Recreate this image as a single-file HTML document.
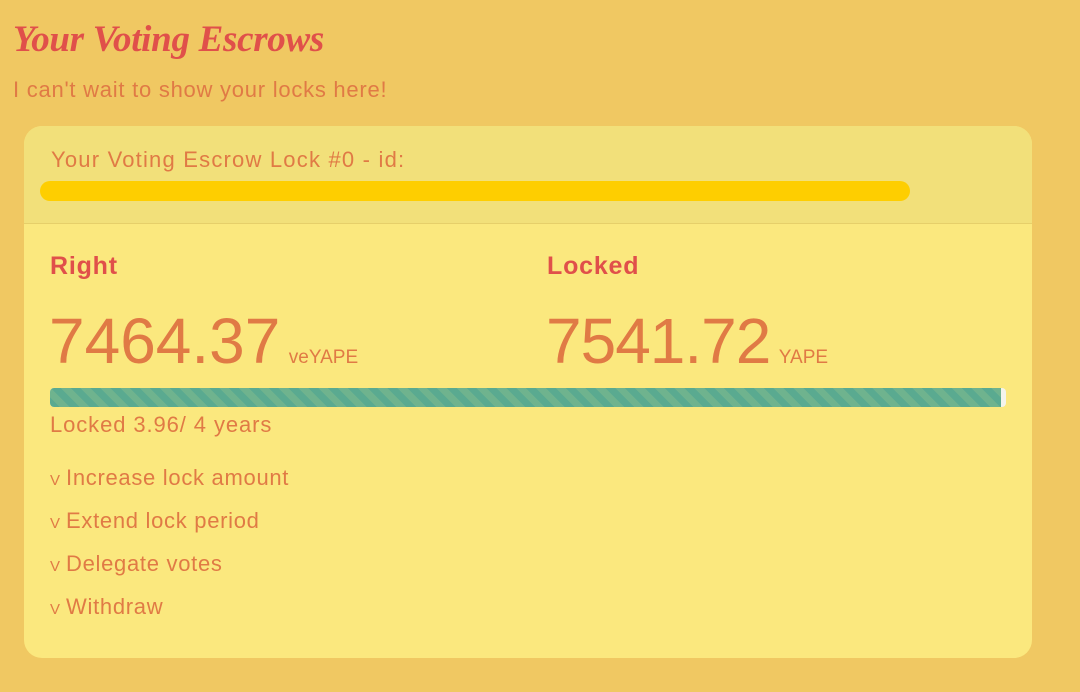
<!DOCTYPE html>
<html><head><meta charset="utf-8"><style>
*{margin:0;padding:0;box-sizing:border-box}
body{width:1080px;height:692px;background:#f0c862;font-family:"Liberation Sans",sans-serif;position:relative;overflow:hidden}
.a{position:absolute;white-space:nowrap}
#title{left:13px;top:18px;font-family:"Liberation Serif",serif;font-style:italic;font-weight:bold;font-size:37px;color:#e0504a;letter-spacing:-0.3px}
#sub{left:13px;top:77px;font-size:22px;color:#e07a45;letter-spacing:0.75px}
#card{left:24px;top:126px;width:1008px;height:532px;background:#fbe87e;border-radius:18px;overflow:hidden}
#head{position:absolute;left:0;top:0;width:100%;height:98px;background:#f2e07a;border-bottom:1px solid #e6cf6a}
#lockid{left:27px;top:21px;font-size:22px;color:#e07a45;letter-spacing:1.2px}
#scribble{left:16px;top:55px;width:870px;height:20px;background:#fece00;border-radius:10px}
.lab{font-size:25px;font-weight:bold;color:#e0504a;letter-spacing:0.8px}
.big{font-size:64px;color:#e07a45}
.unit{font-size:19px;color:#e07a45;margin-left:4px}
#bar{left:26px;top:262px;width:956px;height:19px;border-radius:4px;background:#f4f4ec;overflow:hidden}
#fill{height:100%;background:repeating-linear-gradient(45deg,#5aaa90 0 7px,#6fb38e 7px 14px)}
.act{font-size:22px;color:#e07a45;left:26px;letter-spacing:0.7px}
.act small{font-size:15px;margin-right:6px;letter-spacing:0}
</style></head><body>
<div class="a" id="title">Your Voting Escrows</div>
<div class="a" id="sub">I can't wait to show your locks here!</div>
<div class="a" id="card">
 <div id="head"></div>
 <div class="a" id="lockid">Your Voting Escrow Lock #0 - id:</div>
 <div class="a" id="scribble"></div>
 <div class="a lab" style="left:26px;top:126px">Right</div>
 <div class="a lab" style="left:523px;top:126px">Locked</div>
 <div class="a" style="left:25px;top:178px"><span class="big">7464.37</span> <span class="unit">veYAPE</span></div>
 <div class="a" style="left:522px;top:178px"><span class="big" style="letter-spacing:-1px">7541.72</span> <span class="unit">YAPE</span></div>
 <div class="a" id="bar"><div id="fill" style="width:99.5%"></div></div>
 <div class="a act" style="top:286px;letter-spacing:0.9px">Locked 3.96/ 4 years</div>
 <div class="a act" style="top:339px"><small>V</small>Increase lock amount</div>
 <div class="a act" style="top:382px"><small>V</small>Extend lock period</div>
 <div class="a act" style="top:425px"><small>V</small>Delegate votes</div>
 <div class="a act" style="top:468px"><small>V</small>Withdraw</div>
</div>
</body></html>
